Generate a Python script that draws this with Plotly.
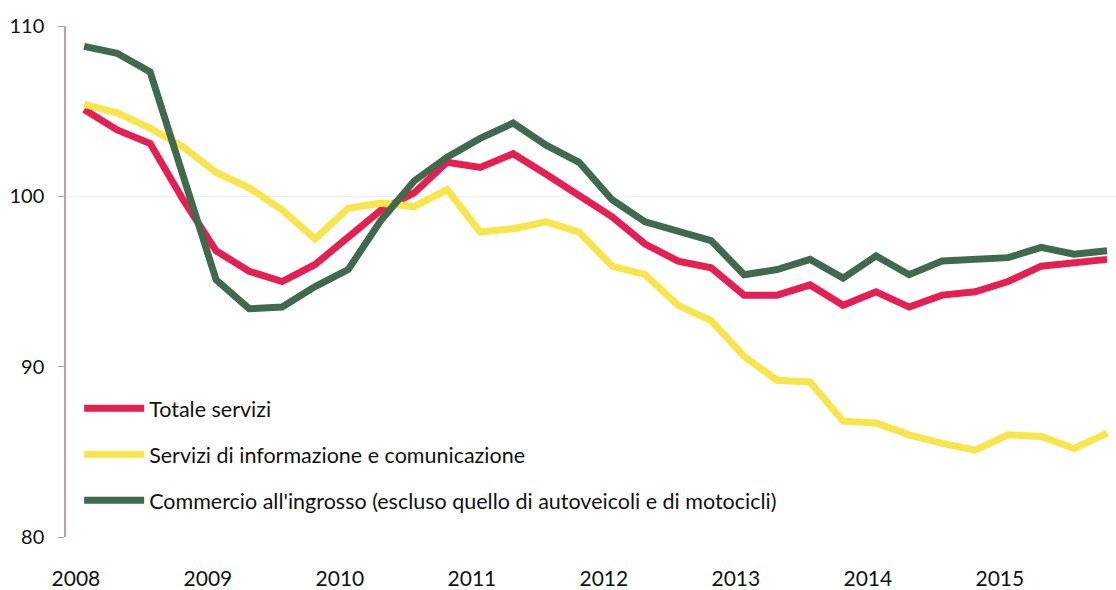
import plotly.graph_objects as go

# Quarterly index, 2008 Q1 – 2015 Q4
years = ["2008", "2009", "2010", "2011", "2012", "2013", "2014", "2015"]
quarters = [f"{y} T{q}" for y in years for q in range(1, 5)]

totale_servizi = [
    105.1, 103.9, 103.1, 99.8, 96.8, 95.6, 95.0, 96.0,
    97.6, 99.2, 100.2, 102.0, 101.7, 102.5, 101.3, 100.1,
    98.8, 97.2, 96.2, 95.8, 94.2, 94.2, 94.8, 93.6,
    94.4, 93.5, 94.2, 94.4, 95.0, 95.9, 96.1, 96.3,
]
informazione_comunicazione = [
    105.4, 104.9, 104.0, 102.9, 101.4, 100.5, 99.2, 97.5,
    99.3, 99.6, 99.4, 100.4, 97.9, 98.1, 98.5, 97.9,
    95.9, 95.4, 93.6, 92.7, 90.6, 89.2, 89.1, 86.8,
    86.7, 86.0, 85.5, 85.1, 86.0, 85.9, 85.2, 86.1,
]
commercio_ingrosso = [
    108.8, 108.4, 107.3, 101.2, 95.1, 93.4, 93.5, 94.7,
    95.7, 98.6, 100.9, 102.3, 103.4, 104.3, 103.0, 102.0,
    99.8, 98.5, 98.0, 97.4, 95.4, 95.7, 96.3, 95.2,
    96.5, 95.4, 96.2, 96.3, 96.4, 97.0, 96.6, 96.8,
]

series_names = [
    "Totale servizi",
    "Servizi di informazione e comunicazione",
    "Commercio all'ingrosso (escluso quello di autoveicoli e di motocicli)",
]
series_values = [totale_servizi, informazione_comunicazione, commercio_ingrosso]
series_colors = ["#e51f52", "#f7e54c", "#406a4d"]

y_ticks = [80, 90, 100, 110]

x = list(range(len(quarters)))
FONT = "Lato, 'Open Sans', sans-serif"
TEXT = "#111111"

fig = go.Figure()
for i, (name, vals, col) in enumerate(zip(series_names, series_values, series_colors)):
    fig.add_trace(go.Scatter(
        x=x, y=vals, name=name, mode="lines",
        line=dict(color=col, width=7),
        legendgroup=f"g{i}",
        customdata=quarters,
        hovertemplate="%{customdata}: %{y:.1f}<extra>%{fullData.name}</extra>",
    ))

# light reference line at 100
fig.add_hline(y=100, line=dict(color="#ececec", width=1), layer="below")

fig.update_layout(
    width=1116, height=590,
    margin=dict(l=66, r=0, t=26, b=53),
    paper_bgcolor="white", plot_bgcolor="white",
    font=dict(family=FONT, size=20, color=TEXT),
    showlegend=True,
    legend=dict(
        x=0.0125, y=0.292, xanchor="left", yanchor="top",
        bgcolor="rgba(0,0,0,0)",
        itemwidth=60, tracegroupgap=15,
        font=dict(family=FONT, size=21.5, color=TEXT),
    ),
    xaxis=dict(
        range=[-0.55, 31.27],
        tickvals=[4 * k - 0.25 for k in range(len(years))],
        ticktext=years,
        showgrid=False, zeroline=False, showline=False,
        ticks="", ticklabelstandoff=27,
        tickfont=dict(family=FONT, size=21, color=TEXT),
    ),
    yaxis=dict(
        range=[80, 110],
        tickvals=y_ticks,
        showgrid=False, zeroline=False,
        showline=True, linecolor="#c79aa4", linewidth=1.5,
        ticks="outside", ticklen=6, tickcolor="#b0a0a4",
        ticklabelstandoff=10,
        tickfont=dict(family=FONT, size=20, color=TEXT),
    ),
)

fig.write_html("out.html")
